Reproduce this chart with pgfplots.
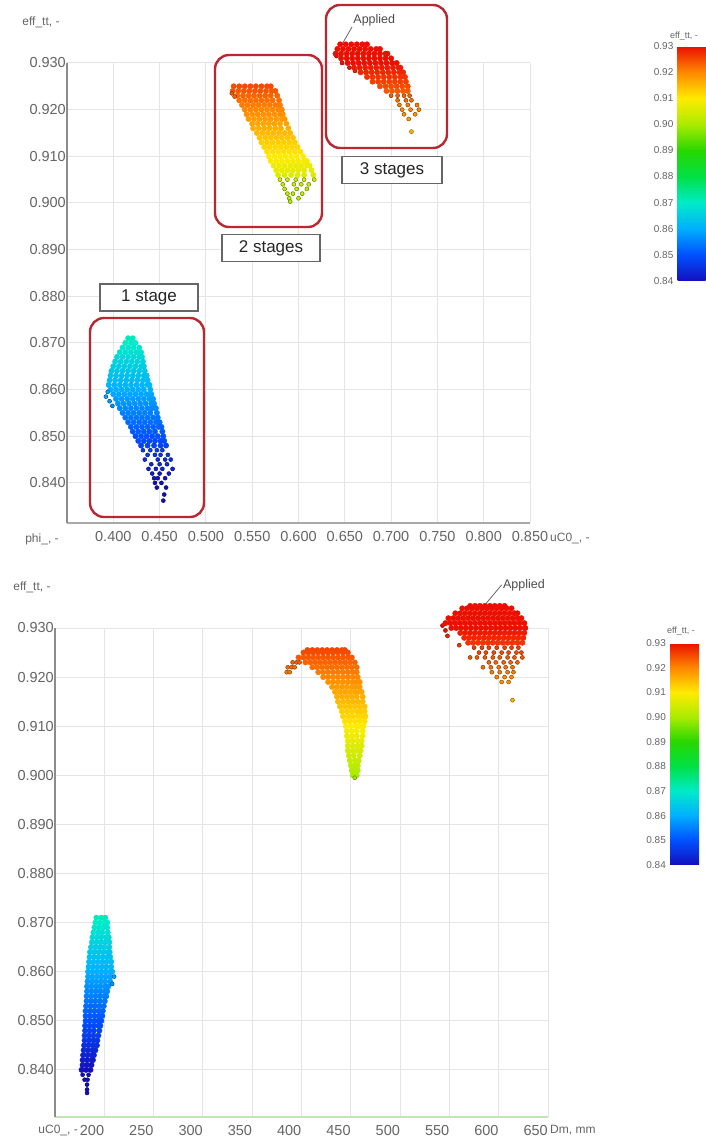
\documentclass[border=0pt]{standalone}
\usepackage{pgfplots}
\pgfplotsset{compat=1.18}
\usepackage{pgfplotstable}
\usepackage{fontspec}
\setmainfont{Liberation Sans}

\definecolor{boxred}{RGB}{188,38,48}
\definecolor{gridgray}{RGB}{229,229,229}
\definecolor{axisgray}{RGB}{140,140,140}
\definecolor{txtgray}{RGB}{100,100,100}
\definecolor{axisgreen}{RGB}{195,228,185}

% ---------- phi_ vs eff_tt (upper panel) ----------
% 1 stage
\pgfplotstableread[row sep=\\]{x y\\
0.416 0.871\\0.421 0.871\\
0.413 0.870\\0.419 0.870\\0.424 0.870\\
0.410 0.869\\0.416 0.869\\0.422 0.869\\0.428 0.869\\
0.407 0.868\\0.413 0.868\\0.419 0.868\\0.425 0.868\\0.430 0.868\\
0.404 0.867\\0.410 0.867\\0.416 0.867\\0.422 0.867\\0.428 0.867\\0.431 0.867\\
0.402 0.866\\0.408 0.866\\0.414 0.866\\0.420 0.866\\0.426 0.866\\0.432 0.866\\
0.400 0.865\\0.406 0.865\\0.412 0.865\\0.418 0.865\\0.424 0.865\\0.430 0.865\\0.433 0.865\\
0.398 0.864\\0.404 0.864\\0.410 0.864\\0.416 0.864\\0.422 0.864\\0.428 0.864\\0.434 0.864\\
0.397 0.863\\0.403 0.863\\0.409 0.863\\0.415 0.863\\0.421 0.863\\0.427 0.863\\0.433 0.863\\0.436 0.863\\
0.396 0.862\\0.402 0.862\\0.408 0.862\\0.414 0.862\\0.420 0.862\\0.426 0.862\\0.432 0.862\\0.437 0.862\\
0.395 0.861\\0.401 0.861\\0.407 0.861\\0.413 0.861\\0.419 0.861\\0.425 0.861\\0.431 0.861\\0.437 0.861\\0.439 0.861\\
0.397 0.860\\0.403 0.860\\0.409 0.860\\0.415 0.860\\0.421 0.860\\0.427 0.860\\0.433 0.860\\0.440 0.860\\
0.400 0.859\\0.406 0.859\\0.412 0.859\\0.418 0.859\\0.424 0.859\\0.430 0.859\\0.436 0.859\\0.441 0.859\\
0.403 0.858\\0.409 0.858\\0.415 0.858\\0.421 0.858\\0.427 0.858\\0.433 0.858\\0.439 0.858\\0.443 0.858\\
0.405 0.857\\0.411 0.857\\0.417 0.857\\0.423 0.857\\0.429 0.857\\0.435 0.857\\0.441 0.857\\0.444 0.857\\
0.407 0.856\\0.413 0.856\\0.419 0.856\\0.425 0.856\\0.431 0.856\\0.437 0.856\\0.442 0.856\\0.446 0.856\\
0.410 0.855\\0.416 0.855\\0.422 0.855\\0.428 0.855\\0.434 0.855\\0.440 0.855\\0.447 0.855\\
0.413 0.854\\0.419 0.854\\0.425 0.854\\0.431 0.854\\0.437 0.854\\0.443 0.854\\0.448 0.854\\
0.416 0.853\\0.422 0.853\\0.428 0.853\\0.434 0.853\\0.440 0.853\\0.446 0.853\\0.450 0.853\\
0.419 0.852\\0.425 0.852\\0.431 0.852\\0.437 0.852\\0.443 0.852\\0.449 0.852\\0.452 0.852\\
0.421 0.851\\0.427 0.851\\0.433 0.851\\0.439 0.851\\0.445 0.851\\0.453 0.851\\
0.424 0.850\\0.430 0.850\\0.436 0.850\\0.442 0.850\\0.448 0.850\\0.454 0.850\\
0.427 0.849\\0.433 0.849\\0.439 0.849\\0.445 0.849\\0.451 0.849\\0.455 0.849\\
0.430 0.848\\0.437 0.848\\0.444 0.848\\0.451 0.848\\0.457 0.848\\
}\phiOneCore
\pgfplotstableread[row sep=\\]{x y\\
0.394 0.8595\\0.392 0.8585\\0.396 0.8575\\0.399 0.8565\\
0.432 0.847\\0.440 0.847\\0.447 0.847\\0.453 0.847\\
0.437 0.846\\0.445 0.846\\0.451 0.846\\0.459 0.846\\
0.434 0.845\\0.448 0.845\\0.456 0.845\\0.462 0.845\\
0.441 0.844\\0.450 0.844\\0.458 0.844\\
0.438 0.843\\0.446 0.843\\0.453 0.843\\0.464 0.843\\
0.442 0.842\\0.450 0.842\\0.460 0.842\\
0.444 0.841\\0.448 0.841\\0.456 0.841\\
0.445 0.840\\0.452 0.840\\
0.447 0.839\\0.457 0.839\\
0.455 0.8375\\0.454 0.8362\\
}\phiOneSparse
% 2 stages
\pgfplotstableread[row sep=\\]{x y\\
0.530 0.925\\0.536 0.925\\0.542 0.925\\0.548 0.925\\0.554 0.925\\0.560 0.925\\0.566 0.925\\0.570 0.925\\
0.529 0.924\\0.535 0.924\\0.541 0.924\\0.547 0.924\\0.553 0.924\\0.559 0.924\\0.565 0.924\\0.571 0.924\\0.575 0.924\\
0.534 0.923\\0.540 0.923\\0.546 0.923\\0.552 0.923\\0.558 0.923\\0.564 0.923\\0.570 0.923\\0.577 0.923\\
0.536 0.922\\0.542 0.922\\0.548 0.922\\0.554 0.922\\0.560 0.922\\0.566 0.922\\0.572 0.922\\0.579 0.922\\
0.539 0.921\\0.545 0.921\\0.551 0.921\\0.557 0.921\\0.563 0.921\\0.569 0.921\\0.575 0.921\\0.580 0.921\\
0.542 0.920\\0.548 0.920\\0.554 0.920\\0.560 0.920\\0.566 0.920\\0.572 0.920\\0.578 0.920\\0.582 0.920\\
0.544 0.919\\0.550 0.919\\0.556 0.919\\0.562 0.919\\0.568 0.919\\0.574 0.919\\0.580 0.919\\0.583 0.919\\
0.546 0.918\\0.552 0.918\\0.558 0.918\\0.564 0.918\\0.570 0.918\\0.576 0.918\\0.582 0.918\\0.585 0.918\\
0.550 0.917\\0.556 0.917\\0.562 0.917\\0.568 0.917\\0.574 0.917\\0.580 0.917\\0.587 0.917\\
0.551 0.916\\0.557 0.916\\0.563 0.916\\0.569 0.916\\0.575 0.916\\0.581 0.916\\0.589 0.916\\
0.555 0.915\\0.561 0.915\\0.567 0.915\\0.573 0.915\\0.579 0.915\\0.585 0.915\\0.591 0.915\\
0.558 0.914\\0.564 0.914\\0.570 0.914\\0.576 0.914\\0.582 0.914\\0.588 0.914\\0.594 0.914\\
0.560 0.913\\0.566 0.913\\0.572 0.913\\0.578 0.913\\0.584 0.913\\0.590 0.913\\0.596 0.913\\
0.563 0.912\\0.569 0.912\\0.575 0.912\\0.581 0.912\\0.587 0.912\\0.593 0.912\\0.599 0.912\\
0.566 0.911\\0.572 0.911\\0.578 0.911\\0.584 0.911\\0.590 0.911\\0.596 0.911\\0.602 0.911\\
0.568 0.910\\0.574 0.910\\0.580 0.910\\0.586 0.910\\0.592 0.910\\0.598 0.910\\0.605 0.910\\
0.570 0.909\\0.576 0.909\\0.582 0.909\\0.588 0.909\\0.594 0.909\\0.600 0.909\\0.606 0.909\\0.609 0.909\\
0.573 0.908\\0.579 0.908\\0.585 0.908\\0.591 0.908\\0.597 0.908\\0.603 0.908\\0.609 0.908\\0.612 0.908\\
0.576 0.907\\0.582 0.907\\0.588 0.907\\0.594 0.907\\0.600 0.907\\0.606 0.907\\0.614 0.907\\
0.578 0.906\\0.585 0.906\\0.592 0.906\\0.599 0.906\\0.606 0.906\\0.616 0.906\\
}\phiTwoCore
\pgfplotstableread[row sep=\\]{x y\\
0.528 0.9235\\0.531 0.9228\\
0.580 0.905\\0.588 0.905\\0.597 0.905\\0.606 0.905\\0.617 0.905\\
0.583 0.904\\0.595 0.904\\0.603 0.904\\0.611 0.904\\
0.585 0.903\\0.598 0.903\\0.609 0.903\\
0.588 0.902\\0.594 0.902\\0.604 0.902\\
0.590 0.901\\0.600 0.901\\
0.591 0.9003\\
}\phiTwoSparse
% 3 stages
\pgfplotstableread[row sep=\\]{x y\\
0.645 0.934\\0.651 0.934\\0.657 0.934\\0.663 0.934\\0.669 0.934\\0.674 0.934\\
0.642 0.933\\0.648 0.933\\0.654 0.933\\0.660 0.933\\0.666 0.933\\0.672 0.933\\0.678 0.933\\0.684 0.933\\0.688 0.933\\
0.640 0.932\\0.646 0.932\\0.652 0.932\\0.658 0.932\\0.664 0.932\\0.670 0.932\\0.676 0.932\\0.682 0.932\\0.688 0.932\\0.694 0.932\\0.696 0.932\\
0.646 0.931\\0.652 0.931\\0.658 0.931\\0.664 0.931\\0.670 0.931\\0.676 0.931\\0.682 0.931\\0.688 0.931\\0.694 0.931\\0.700 0.931\\
0.653 0.930\\0.659 0.930\\0.665 0.930\\0.671 0.930\\0.677 0.930\\0.683 0.930\\0.689 0.930\\0.695 0.930\\0.701 0.930\\0.706 0.930\\
0.660 0.929\\0.666 0.929\\0.672 0.929\\0.678 0.929\\0.684 0.929\\0.690 0.929\\0.696 0.929\\0.702 0.929\\0.708 0.929\\0.710 0.929\\
0.667 0.928\\0.673 0.928\\0.679 0.928\\0.685 0.928\\0.691 0.928\\0.697 0.928\\0.703 0.928\\0.709 0.928\\0.713 0.928\\
0.674 0.927\\0.680 0.927\\0.686 0.927\\0.692 0.927\\0.698 0.927\\0.704 0.927\\0.710 0.927\\0.715 0.927\\
0.680 0.926\\0.686 0.926\\0.692 0.926\\0.698 0.926\\0.704 0.926\\0.710 0.926\\0.716 0.926\\
0.688 0.925\\0.694 0.925\\0.700 0.925\\0.706 0.925\\0.712 0.925\\0.718 0.925\\
0.695 0.924\\0.701 0.924\\0.707 0.924\\0.713 0.924\\0.718 0.924\\
}\phiThreeCore
\pgfplotstableread[row sep=\\]{x y\\
0.641 0.9315\\0.647 0.9300\\0.655 0.9290\\0.661 0.9283\\
0.700 0.923\\0.707 0.923\\0.714 0.923\\0.720 0.923\\
0.707 0.922\\0.716 0.922\\0.722 0.922\\
0.709 0.921\\0.718 0.921\\0.728 0.921\\
0.712 0.920\\0.721 0.920\\0.730 0.920\\
0.714 0.919\\0.726 0.919\\
0.719 0.918\\
0.722 0.9153\\
}\phiThreeSparse

% ---------- Dm vs eff_tt (lower panel) ----------
% 1 stage
\pgfplotstableread[row sep=\\]{x y\\
192 0.871\\197 0.871\\201 0.871\\
191 0.870\\195.5 0.870\\200 0.870\\203 0.870\\
190 0.869\\194.5 0.869\\199 0.869\\203 0.869\\
189 0.868\\193.5 0.868\\198 0.868\\203.5 0.868\\
188 0.867\\192.5 0.867\\197 0.867\\201.5 0.867\\204.5 0.867\\
187.5 0.866\\192 0.866\\196.5 0.866\\201 0.866\\205 0.866\\
186.5 0.865\\191 0.865\\195.5 0.865\\200 0.865\\205 0.865\\
185.5 0.864\\190 0.864\\194.5 0.864\\199 0.864\\203.5 0.864\\205.5 0.864\\
185 0.863\\189.5 0.863\\194 0.863\\198.5 0.863\\203 0.863\\206 0.863\\
184.5 0.862\\189 0.862\\193.5 0.862\\198 0.862\\202.5 0.862\\207 0.862\\
184 0.861\\188.5 0.861\\193 0.861\\197.5 0.861\\202 0.861\\207 0.861\\
183.5 0.860\\188 0.860\\192.5 0.860\\197 0.860\\201.5 0.860\\206 0.860\\208 0.860\\
183.5 0.859\\188 0.859\\192.5 0.859\\197 0.859\\201.5 0.859\\206 0.859\\
183 0.858\\187.5 0.858\\192 0.858\\196.5 0.858\\201 0.858\\206 0.858\\
182.5 0.857\\187 0.857\\191.5 0.857\\196 0.857\\200.5 0.857\\204 0.857\\
182.5 0.856\\187 0.856\\191.5 0.856\\196 0.856\\200.5 0.856\\203 0.856\\
182 0.855\\186.5 0.855\\191 0.855\\195.5 0.855\\200 0.855\\202 0.855\\
182 0.854\\186.5 0.854\\191 0.854\\195.5 0.854\\200.5 0.854\\
181.5 0.853\\186 0.853\\190.5 0.853\\195 0.853\\199.5 0.853\\
181 0.852\\185.5 0.852\\190 0.852\\194.5 0.852\\198.5 0.852\\
181 0.851\\185.5 0.851\\190 0.851\\194.5 0.851\\198 0.851\\
181 0.850\\185.5 0.850\\190 0.850\\194 0.850\\197 0.850\\
180.5 0.849\\185 0.849\\189.5 0.849\\194 0.849\\196 0.849\\
180.5 0.848\\185 0.848\\189.5 0.848\\195 0.848\\
180 0.847\\184.5 0.847\\189 0.847\\194 0.847\\
180 0.846\\184.5 0.846\\189 0.846\\193 0.846\\
179.5 0.845\\184 0.845\\188.5 0.845\\192.5 0.845\\
179 0.844\\183.5 0.844\\188 0.844\\191 0.844\\
178.5 0.843\\183 0.843\\187.5 0.843\\189.5 0.843\\
178 0.842\\182.5 0.842\\187 0.842\\188.5 0.842\\
178 0.841\\182.5 0.841\\187 0.841\\
177 0.840\\181.5 0.840\\186 0.840\\
}\dmOneCore
\pgfplotstableread[row sep=\\]{x y\\
210 0.859\\208 0.8575\\
178 0.839\\184 0.839\\180 0.838\\183 0.838\\
182.5 0.837\\182.5 0.836\\182.5 0.8353\\
}\dmOneSparse
% 2 stages
\pgfplotstableread[row sep=\\]{x y\\
406 0.9255\\411 0.9255\\416 0.9255\\421 0.9255\\426 0.9255\\431 0.9255\\436 0.9255\\441 0.9255\\444 0.9255\\
402 0.925\\407 0.925\\412 0.925\\417 0.925\\422 0.925\\427 0.925\\432 0.925\\437 0.925\\442 0.925\\447 0.925\\
397 0.924\\402 0.924\\407 0.924\\412 0.924\\417 0.924\\422 0.924\\427 0.924\\432 0.924\\437 0.924\\442 0.924\\447 0.924\\451 0.924\\
404 0.923\\409 0.923\\414 0.923\\419 0.923\\424 0.923\\429 0.923\\434 0.923\\439 0.923\\444 0.923\\449 0.923\\454 0.923\\
411 0.922\\416 0.922\\421 0.922\\426 0.922\\431 0.922\\436 0.922\\441 0.922\\446 0.922\\451 0.922\\456 0.922\\
417 0.921\\422 0.921\\427 0.921\\432 0.921\\437 0.921\\442 0.921\\447 0.921\\452 0.921\\456 0.921\\
422 0.920\\427 0.920\\432 0.920\\437 0.920\\442 0.920\\447 0.920\\452 0.920\\457 0.920\\
427 0.919\\432 0.919\\437 0.919\\442 0.919\\447 0.919\\452 0.919\\456 0.919\\459 0.919\\
431 0.918\\436 0.918\\441 0.918\\446 0.918\\451 0.918\\455 0.918\\459 0.918\\
434 0.917\\439 0.917\\444 0.917\\449 0.917\\454 0.917\\458 0.917\\461 0.917\\
436 0.916\\441 0.916\\446 0.916\\451 0.916\\456 0.916\\462 0.916\\
437 0.915\\442 0.915\\447 0.915\\452 0.915\\457 0.915\\462 0.915\\
439 0.914\\444 0.914\\449 0.914\\454 0.914\\459 0.914\\464 0.914\\
441 0.913\\446 0.913\\451 0.913\\456 0.913\\460 0.913\\464 0.913\\
442 0.912\\447 0.912\\452 0.912\\457 0.912\\461 0.912\\465 0.912\\
444 0.911\\449 0.911\\454 0.911\\459 0.911\\464 0.911\\
445 0.910\\450 0.910\\455 0.910\\459 0.910\\463 0.910\\
446 0.909\\451 0.909\\456 0.909\\462 0.909\\
446 0.908\\451 0.908\\456 0.908\\462 0.908\\
447 0.907\\452 0.907\\457 0.907\\461 0.907\\
447 0.906\\452 0.906\\457 0.906\\461 0.906\\
447 0.905\\452 0.905\\456 0.905\\460 0.905\\
448 0.904\\453 0.904\\459 0.904\\
449 0.903\\454 0.903\\458 0.903\\
450 0.902\\454 0.902\\457 0.902\\
451 0.901\\454 0.901\\457 0.901\\
452 0.900\\456 0.900\\
}\dmTwoCore
\pgfplotstableread[row sep=\\]{x y\\
391 0.923\\395 0.923\\398 0.923\\
386 0.922\\390 0.922\\393 0.922\\
385 0.921\\388 0.921\\
454 0.8995\\
}\dmTwoSparse
% 3 stages
\pgfplotstableread[row sep=\\]{x y\\
571 0.9345\\576 0.9345\\581 0.9345\\586 0.9345\\591 0.9345\\596 0.9345\\601 0.9345\\606 0.9345\\
563 0.934\\568 0.934\\573 0.934\\578 0.934\\583 0.934\\588 0.934\\593 0.934\\598 0.934\\603 0.934\\608 0.934\\613 0.934\\
556 0.933\\561 0.933\\566 0.933\\571 0.933\\576 0.933\\581 0.933\\586 0.933\\591 0.933\\596 0.933\\601 0.933\\606 0.933\\611 0.933\\616 0.933\\619 0.933\\
549 0.932\\554 0.932\\559 0.932\\564 0.932\\569 0.932\\574 0.932\\579 0.932\\584 0.932\\589 0.932\\594 0.932\\599 0.932\\604 0.932\\609 0.932\\614 0.932\\619 0.932\\623 0.932\\
546 0.931\\551 0.931\\556 0.931\\561 0.931\\566 0.931\\571 0.931\\576 0.931\\581 0.931\\586 0.931\\591 0.931\\596 0.931\\601 0.931\\606 0.931\\611 0.931\\616 0.931\\621 0.931\\626 0.931\\
552 0.930\\557 0.930\\562 0.930\\567 0.930\\572 0.930\\577 0.930\\582 0.930\\587 0.930\\592 0.930\\597 0.930\\602 0.930\\607 0.930\\612 0.930\\617 0.930\\622 0.930\\627 0.930\\
561 0.929\\566 0.929\\571 0.929\\576 0.929\\581 0.929\\586 0.929\\591 0.929\\596 0.929\\601 0.929\\606 0.929\\611 0.929\\616 0.929\\621 0.929\\626 0.929\\
565 0.928\\570 0.928\\575 0.928\\580 0.928\\585 0.928\\590 0.928\\595 0.928\\600 0.928\\605 0.928\\610 0.928\\615 0.928\\620 0.928\\625 0.928\\
569 0.927\\574 0.927\\579 0.927\\584 0.927\\589 0.927\\594 0.927\\599 0.927\\604 0.927\\609 0.927\\614 0.927\\619 0.927\\624 0.927\\
}\dmThreeCore
\pgfplotstableread[row sep=\\]{x y\\
543 0.9305\\546 0.9295\\548 0.9284\\560 0.9265\\
575 0.926\\583 0.926\\590 0.926\\598 0.926\\606 0.926\\613 0.926\\620 0.926\\
580 0.925\\587 0.925\\595 0.925\\603 0.925\\610 0.925\\618 0.925\\623 0.925\\
571 0.924\\578 0.924\\586 0.924\\594 0.924\\601 0.924\\609 0.924\\616 0.924\\624 0.924\\
590 0.923\\597 0.923\\605 0.923\\612 0.923\\619 0.923\\
584 0.922\\592 0.922\\600 0.922\\607 0.922\\614 0.922\\
593 0.921\\601 0.921\\609 0.921\\615 0.921\\
598 0.920\\606 0.920\\613 0.920\\
603 0.919\\610 0.919\\
614 0.9153\\
}\dmThreeSparse

\pgfplotsset{
  colormap={effmap}{
    rgb255(0pt)=(20,15,190)
    rgb255(10pt)=(0,80,255)
    rgb255(20pt)=(0,175,255)
    rgb255(30pt)=(0,235,200)
    rgb255(40pt)=(0,225,70)
    rgb255(50pt)=(40,215,0)
    rgb255(60pt)=(170,235,0)
    rgb255(70pt)=(255,235,0)
    rgb255(80pt)=(255,135,0)
    rgb255(90pt)=(235,15,0)
  },
  effaxis/.style={
    scale only axis, clip=false,
    axis lines=left, axis line style={-},
    y axis line style={draw=axisgray, line width=1.8pt},
    grid=major, major grid style={draw=gridgray, line width=1pt},
    major tick length=0pt,
    tick label style={font=\fontsize{14.5}{16}\selectfont, text=txtgray, inner sep=0pt},
    yticklabel style={anchor=east, xshift=-1pt,
      /pgf/number format/.cd, fixed, fixed zerofill, precision=3, assume math mode=true},
    ytick={0.84,0.85,0.86,0.87,0.88,0.89,0.90,0.91,0.92,0.93},
    colormap name=effmap,
    point meta min=0.84, point meta max=0.93,
    colorbar,
    colorbar style={at={(parent axis.north east)}, anchor=north west, scale only axis,
      xtick=\empty, grid=none, major tick length=0pt,
      axis line style={draw=none},
      ytick={0.84,0.85,0.86,0.87,0.88,0.89,0.90,0.91,0.92,0.93},
      yticklabel pos=left,
      yticklabel style={font=\fontsize{10}{12}\selectfont, text=txtgray,
        anchor=east, xshift=-4pt, inner sep=0pt,
        /pgf/number format/.cd, fixed, fixed zerofill, precision=2, assume math mode=true}},
  },
  core/.style={scatter, only marks, mark=*, mark size=2.7pt, point meta=y,
    scatter/use mapped color={draw=mapped color, fill=mapped color}},
  sparse/.style={scatter, only marks, mark=*, mark size=2pt, point meta=y,
    scatter/use mapped color={draw=mapped color!55!black, fill=mapped color, line width=0.5pt}},
}

\begin{document}
\begin{tikzpicture}
\useasboundingbox (0pt,0pt) rectangle (706pt,-1146pt);

% upper panel: phi_
\begin{axis}[effaxis,
  at={(67pt,-523pt)}, anchor=south west,
  width=463pt, height=460pt,
  xmin=0.35, xmax=0.85, ymin=0.8314, ymax=0.93,
  xtick={0.40,0.45,0.50,0.55,0.60,0.65,0.70,0.75,0.80,0.85},
  xticklabel style={anchor=north, yshift=-8pt,
    /pgf/number format/.cd, fixed, fixed zerofill, precision=3, assume math mode=true},
  x axis line style={draw=axisgray!75, line width=1.6pt},
  colorbar/width=28pt,
  colorbar style={xshift=139pt, yshift=17pt, height=235pt},
]
\addplot[core] table {\phiOneCore};
\addplot[sparse] table {\phiOneSparse};
\addplot[core] table {\phiTwoCore};
\addplot[sparse] table {\phiTwoSparse};
\addplot[sparse] table {\phiThreeSparse};
\addplot[core] table {\phiThreeCore};
\draw[black!60, line width=0.8pt] (axis cs:0.6455,0.9335) -- (axis cs:0.6578,0.9377)
  node[anchor=south west, inner sep=1pt, text=black!70, font=\fontsize{12.5}{14}\selectfont] {Applied};
\end{axis}

% lower panel: Dm
\begin{axis}[effaxis,
  at={(55pt,-1117pt)}, anchor=south west,
  width=493pt, height=489pt,
  xmin=150, xmax=650, ymin=0.8304, ymax=0.93,
  xtick={200,250,300,350,400,450,500,550,600,650},
  xticklabel style={anchor=north east, yshift=-8pt,
    /pgf/number format/.cd, fixed, precision=0, assume math mode=true},
  x axis line style={draw=axisgreen, line width=1.6pt},
  colorbar/width=29pt,
  colorbar style={xshift=113.5pt, yshift=-15pt, height=222pt},
]
\addplot[core] table {\dmOneCore};
\addplot[sparse] table {\dmOneSparse};
\addplot[core] table {\dmTwoCore};
\addplot[sparse] table {\dmTwoSparse};
\addplot[sparse] table {\dmThreeSparse};
\addplot[core] table {\dmThreeCore};
\draw[black!60, line width=0.8pt] (axis cs:586,0.9347) -- (axis cs:603,0.9388)
  node[anchor=west, inner sep=1pt, text=black!70, font=\fontsize{12.5}{14}\selectfont] {Applied};
\end{axis}

% stage groups in the upper panel
\begin{scope}[boxred, line width=2.4pt, rounded corners=14pt]
  \draw (90pt,-318pt) rectangle (204pt,-517pt);
  \draw (215pt,-55pt) rectangle (322pt,-227pt);
  \draw (326pt,-5pt) rectangle (447pt,-148pt);
\end{scope}
\tikzset{stagebox/.style={draw=black!60, line width=1.3pt, fill=white,
  minimum width=98pt, minimum height=27pt, inner sep=0pt,
  font=\fontsize{17}{19}\selectfont, text=black!85}}
\node[stagebox] at (149pt,-297.5pt) {1 stage};
\node[stagebox] at (271pt,-248pt) {2 stages};
\node[stagebox, minimum width=100pt] at (392pt,-170pt) {3 stages};

% axis names
\begin{scope}[font=\fontsize{12}{14}\selectfont, text=txtgray]
  \node at (41pt,-22pt) {eff\_tt, -};
  \node at (42pt,-539pt) {phi\_, -};
  \node[anchor=west, inner sep=0pt] at (550pt,-538pt) {uC0\_, -};
  \node at (32pt,-587pt) {eff\_tt, -};
  \node[anchor=east, inner sep=0pt] at (78pt,-1130pt) {uC0\_, -};
  \node[anchor=west, inner sep=0pt] at (550pt,-1130pt) {Dm, mm};
  \node[font=\fontsize{9}{11}\selectfont] at (684pt,-36pt) {eff\_tt, -};
  \node[font=\fontsize{9}{11}\selectfont] at (681pt,-631pt) {eff\_tt, -};
\end{scope}
\end{tikzpicture}
\end{document}
